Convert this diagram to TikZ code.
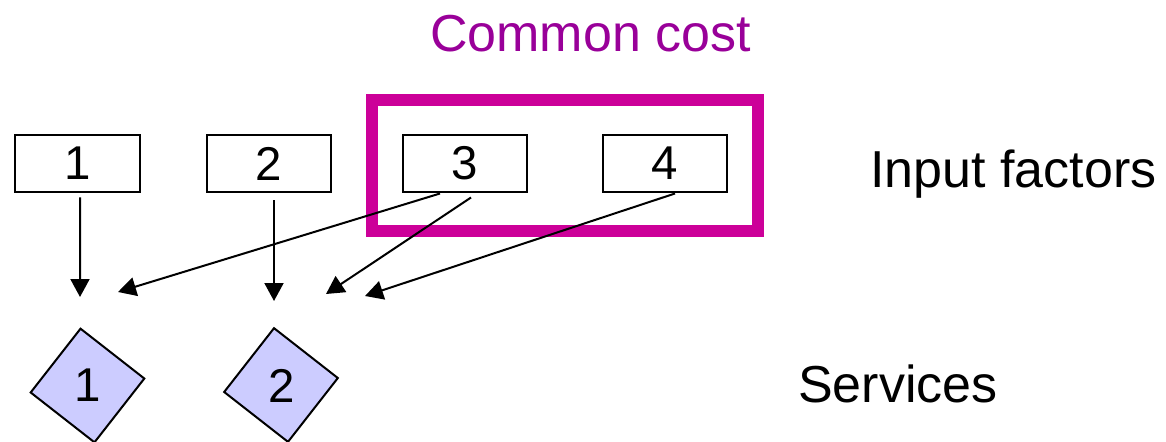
\documentclass[tikz,border=0pt]{standalone}
\usepackage{fontspec}
\setmainfont{Liberation Sans}
\usepackage{tikz}
\usetikzlibrary{arrows.meta,calc,positioning,fit}
\definecolor{framecol}{RGB}{204,0,153}
\definecolor{titlecol}{RGB}{153,0,153}
\definecolor{svcfill}{RGB}{204,204,255}
\tikzset{
  factor/.style={draw,line width=0.04cm,minimum width=2.5cm,minimum height=1.16cm,inner sep=0pt,font=\fontsize{27}{32}\selectfont},
  service/.style={draw,line width=0.04cm,fill=svcfill,minimum size=1.62cm,inner sep=0pt,rotate=-38},
  digit/.style={font=\fontsize{27}{32}\selectfont},
  label/.style={font=\fontsize{29.6}{35}\selectfont,anchor=base},
  arr/.style={line width=0.04cm,-{Triangle[length=0.36cm,width=0.38cm]}}
}
\begin{document}
\begin{tikzpicture}[x=0.02cm,y=0.02cm]
\useasboundingbox (0,0) rectangle (1166,441);
\node[factor] (F1) at (77.5,277.5) {1};
\node[factor] (F2) at (269,277.5) {2};
\node[factor] (F3) at (465,277.5) {3};
\node[factor] (F4) at (665,277.5) {4};
\node[draw=framecol,line width=0.24cm,fit=(F3)(F4),inner xsep=0.6cm,inner ysep=0.72cm,yshift=-0.04cm] (CC) {};
\node[label,text=titlecol] at (590.5,390) {Common cost};
\node[label] at (1013.5,254) {Input factors};
\node[label] at (898,39) {Services};
\node[service] (S1) at (87.5,55.5) {};
\node[service] (S2) at (281,56) {};
\node[digit] at (S1.center) {1};
\node[digit] at ($(S2.center)+(1,-1)$) {2};
\coordinate (S1a) at (80,144);
\coordinate (S1b) at (118,149);
\coordinate (S2a) at (274,140);
\coordinate (S2b) at (326,147);
\coordinate (S2c) at (365,145);
\draw[arr] ($(F1.south)+(2.5,-4)$) -- (S1a);
\draw[arr] ($(F2.south)+(5,-7)$) -- (S2a);
\draw[arr] ($(F3.south)+(-25,0)$) -- (S1b);
\draw[arr] ($(F3.south)+(6,-4)$) -- (S2b);
\draw[arr] ($(F4.south)+(10,0)$) -- (S2c);
\end{tikzpicture}
\end{document}
